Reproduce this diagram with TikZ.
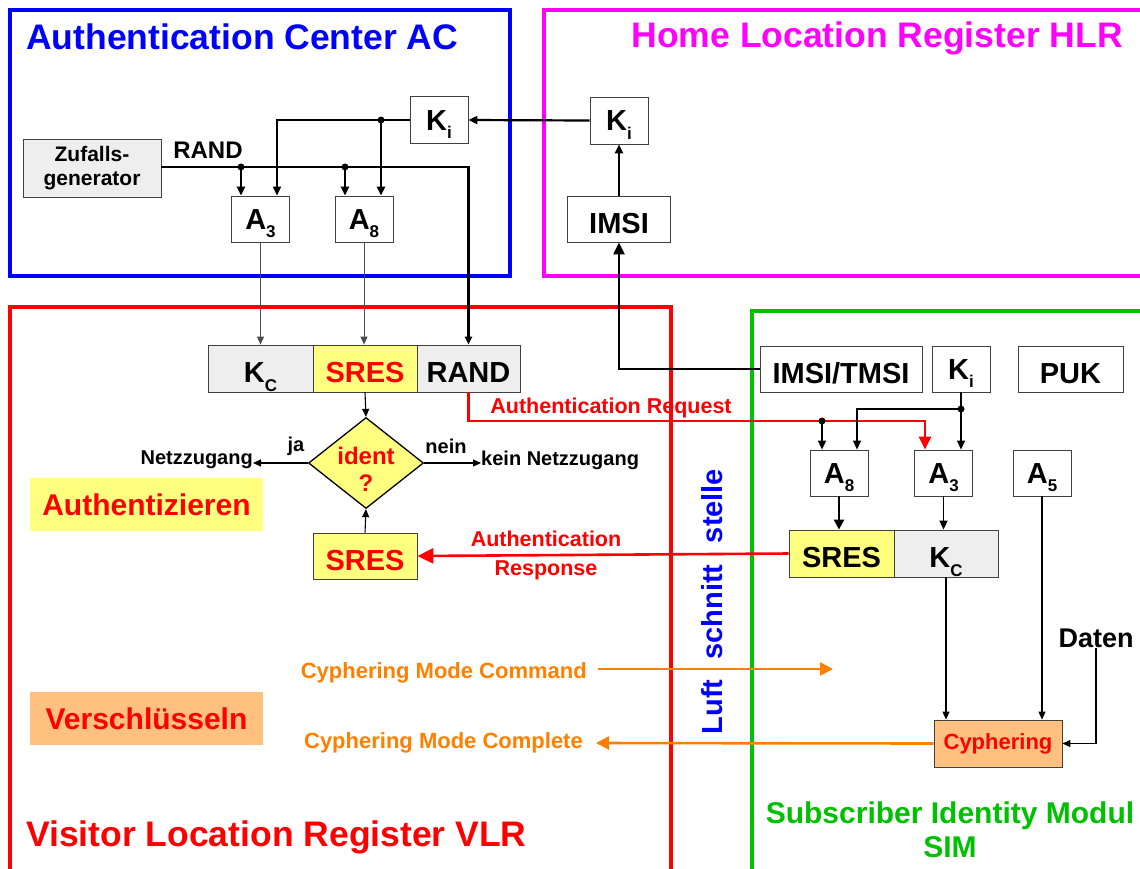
\documentclass[tikz,border=0pt]{standalone}
\usepackage{fontspec}
\setmainfont{Liberation Sans}
\usetikzlibrary{arrows.meta,shapes.geometric}
\definecolor{acblue}{RGB}{0,0,255}
\definecolor{hlrpink}{RGB}{255,0,255}
\definecolor{vlrred}{RGB}{255,0,0}
\definecolor{simgreen}{RGB}{0,192,0}
\definecolor{cyorange}{RGB}{255,128,0}
\definecolor{cyfill}{RGB}{255,192,128}
\definecolor{resyellow}{RGB}{255,255,128}
\definecolor{keygray}{RGB}{238,238,238}
\newcommand{\subidx}[1]{\raisebox{-0.3em}{\fontsize{17}{17}\selectfont #1}}
\tikzset{>={Triangle[length=9pt,width=8pt]}}
\tikzset{
  frame/.style={line width=3.5pt},
  title/.style={font=\fontsize{35.5}{38}\selectfont\bfseries, inner sep=0pt},
  plainbox/.style={draw=black!75, line width=0.8pt, fill=white, inner sep=0pt,
    minimum width=58pt, minimum height=46pt, font=\fontsize{29}{31}\selectfont\bfseries},
  box/.style={plainbox, text height=20pt, text depth=0pt},
  word/.style={text height=28pt},
  small/.style={font=\fontsize{20}{22}\selectfont\bfseries, inner sep=0pt},
  msg/.style={font=\fontsize{21.5}{29}\selectfont\bfseries, inner sep=0pt, text=vlrred, align=center},
  cyp/.style={font=\fontsize{22}{24}\selectfont\bfseries, inner sep=0pt, text=cyorange},
  sig/.style={line width=2.2pt, ->},
  thinsig/.style={line width=1.1pt, -{Triangle[length=8pt,width=7pt]}},
  redsig/.style={vlrred, line width=2.6pt},
  orangesig/.style={cyorange, line width=2.6pt, -{Triangle[length=13pt,width=13pt]}},
}

\begin{document}
\begin{tikzpicture}[x=1pt,y=-1pt]
    \useasboundingbox (0,0) rectangle (1140,868);
    \clip (0,0) rectangle (1140,868);
    % the four areas
    \draw[frame,acblue]   (10,10) rectangle (510,276);
    \draw[frame,hlrpink]  (544,10) rectangle (1160,276);
    \draw[frame,vlrred]   (10,307) rectangle (671,890);
    \draw[frame,simgreen] (752,311) rectangle (1160,890);
    %
    \node[title, text=acblue, anchor=west]  (actitle)  at (26,37)   {Authentication Center AC};
    \node[title, text=hlrpink, anchor=east] (hlrtitle) at (1123,38) {Home Location Register HLR};
    \node[title, text=vlrred, anchor=west]  (vlrtitle) at (26,837)  {Visitor Location Register VLR};
    \node[font=\fontsize{30}{34}\selectfont\bfseries, text=simgreen, align=center, inner sep=0pt]
        (simtitle) at (950,830) {Subscriber Identity Modul\\SIM};
    %
    % Authentication Center
    \node[plainbox, minimum width=138pt, minimum height=58pt, fill=keygray, align=center,
          font=\fontsize{21}{24}\selectfont\bfseries] (zufall) at (92,168) {Zufalls-\\generator};
    \node[box, minimum height=47pt] (kiac) at (439,120) {K\subidx{i}};
    \node[box] (a3ac) at (260.5,219) {A\subidx{3}};
    \node[box] (a8ac) at (364,219)   {A\subidx{8}};
    \node[font=\fontsize{24}{26}\selectfont\bfseries, inner sep=0pt] (randlbl) at (208,150) {RAND};
    %
    % Home Location Register
    \node[box, minimum height=47pt] (kihlr) at (619,120.5) {K\subidx{i}};
    \node[box, word, minimum width=103pt] (imsihlr) at (619,219) {IMSI};
    %
    % Visitor Location Register
    \node[box, word, minimum width=105pt, minimum height=47pt, fill=keygray] (kcvlr) at (260.5,368.5) {K\subidx{C}};
    \node[box, word, minimum width=104pt, minimum height=47pt, fill=resyellow, text=vlrred] (sresvlr) at (365,368.5) {SRES};
    \node[box, word, minimum width=103pt, minimum height=47pt, fill=keygray] (randvlr) at (468.5,368.5) {RAND};
    \node[diamond, draw=black, line width=1.3pt, fill=resyellow, inner sep=0pt, aspect=1.26,
          minimum width=115pt, minimum height=91pt,
          label={[font=\fontsize{24}{27}\selectfont\bfseries, text=vlrred, align=center, yshift=-6pt]center:{ident\\?}}]
        (ident) at (366,463) {};
    \node[box, word, minimum width=104pt, fill=resyellow, text=vlrred] (sresin) at (365,556) {SRES};
    \node[small, anchor=east] (netz) at (253,460) {Netzzugang};
    \node[small, anchor=west] (keinnetz) at (481,460) {kein Netzzugang};
    \node[small] (ja) at (296,446) {ja};
    \node[small] (nein) at (446,446) {nein};
    \node[fill=resyellow, minimum width=233pt, minimum height=53pt, inner sep=0pt, text=vlrred,
          font=\fontsize{30}{32}\selectfont\bfseries] (authlbl) at (146.5,504.5) {Authentizieren};
    \node[fill=cyfill, minimum width=233pt, minimum height=53pt, inner sep=0pt, text=vlrred,
          font=\fontsize{30}{32}\selectfont\bfseries] (verlbl) at (146.5,718.5) {Verschlüsseln};
    %
    % Luftschnittstelle
    \node[rotate=90, text=acblue, font=\fontsize{29}{31}\selectfont\bfseries, inner sep=0pt] (luft) at (712,707) {Luft};
    \node[rotate=90, text=acblue, font=\fontsize{29}{31}\selectfont\bfseries, inner sep=0pt] (schnitt) at (712,612) {schnitt};
    \node[rotate=90, text=acblue, font=\fontsize{29}{31}\selectfont\bfseries, inner sep=0pt] (stelle) at (712,506) {stelle};
    %
    % SIM
    \node[box, word, minimum width=162pt] (imsitmsi) at (841,369) {IMSI/TMSI};
    \node[box] (kisim) at (961,369) {K\subidx{i}};
    \node[box, word, minimum width=105pt] (puk) at (1070.5,369) {PUK};
    \node[box] (a8sim) at (839,473)  {A\subidx{8}};
    \node[box] (a3sim) at (943.5,473) {A\subidx{3}};
    \node[box] (a5sim) at (1042,473) {A\subidx{5}};
    \node[box, word, minimum width=105pt, minimum height=47pt, fill=resyellow] (sressim) at (841.5,553.5) {SRES};
    \node[box, word, minimum width=104pt, minimum height=47pt, fill=keygray] (kcsim) at (946,553.5) {K\subidx{C}};
    \node[plainbox, minimum width=128pt, minimum height=47pt, fill=cyfill, text=vlrred,
          font=\fontsize{22}{24}\selectfont\bfseries] (cyph) at (998,743.5) {Cyphering};
    \node[font=\fontsize{27}{29}\selectfont\bfseries, inner sep=0pt] (daten) at (1096,638) {Daten};
    %
    % messages over the air
    \node[msg] (req) at (611,408) {Authentication Request};
    \node[msg] (resp) at (546,555) {Authentication\\Response};
    \node[cyp, anchor=east] (cmd) at (587,673) {Cyphering Mode Command};
    \node[cyp, anchor=east] (cmpl) at (583,743) {Cyphering Mode Complete};
    %
    \coordinate (r3) at (241,167);
    \coordinate (r8) at (345,167);
    \coordinate (k3) at (277,120);
    \coordinate (k8) at (381,120);
    \coordinate (rq) at (925,421);
    \coordinate (rq8) at (822,421);
    \coordinate (ks) at (961,409);
    \coordinate (ks8) at (857,409);
    \coordinate (cmdstart) at (598,669);
    \coordinate (cmdend) at (833,669);
    \coordinate (cmplend) at (596,743);
    %
    % AC wiring
    \draw[line width=2.2pt, -{Triangle[length=8pt,width=7pt]}] (zufall.east |- r3) -- (r3 -| randvlr.north) -- (randvlr.north);
    \draw[sig] (r3) -- (r3 |- a3ac.north);
    \draw[sig] (r8) -- (r8 |- a8ac.north);
    \draw[line width=1.4pt, ->] (kiac.west) -- (k3) -- (k3 |- a3ac.north);
    \draw[sig] (k8) -- (k8 |- a8ac.north);
    \fill (r3) circle (3.5pt) (r8) circle (3.5pt) (k8) circle (3.5pt);
    \draw[sig] (kihlr.west) -- (kiac.east);
    \draw[sig] (imsihlr.north) -- (kihlr.south);
    \draw[black!70, line width=1pt, -{Triangle[length=8pt,width=7pt]}] (a3ac.south) -- (a3ac.south |- kcvlr.north);
    \draw[black!70, line width=1pt, -{Triangle[length=8pt,width=7pt]}] (a8ac.south) -- (a8ac.south |- sresvlr.north);
    \draw[line width=2.2pt, -{Triangle[length=12pt,width=11pt]}] (imsitmsi.west) -- (imsitmsi.west -| imsihlr.south) -- (imsihlr.south);
    %
    % comparison in the VLR
    \draw[thinsig] (sresvlr.south) -- (ident.north);
    \draw[thinsig] (sresin.north) -- (ident.south);
    \draw[thinsig] (ident.west) -- (ident.west -| netz.east);
    \draw[thinsig] (ident.east) -- (ident.east -| keinnetz.west);
    %
    % request and response
    \draw[redsig, -{Triangle[length=13pt,width=12pt]}] (randvlr.south) |- (rq) -- (rq |- a3sim.north);
    \draw[line width=1.8pt, ->] (rq8) -- (rq8 |- a8sim.north);
    \fill (rq8) circle (3.5pt);
    \draw[redsig, -{Triangle[length=16pt,width=15pt]}] (sressim.west) -- (sresin.east);
    %
    % SIM wiring
    \draw[line width=1.2pt] (kisim.south) -- (ks);
    \draw[line width=1.2pt, ->] (ks) -- (ks8) -- (ks8 |- a8sim.north);
    \draw[line width=1.2pt, ->] (ks) -- (ks |- a3sim.north);
    \fill (ks) circle (3.5pt);
    \draw[line width=2.6pt, -{Triangle[length=10pt,width=10pt]}] (a8sim.south) -- (a8sim.south |- sressim.north);
    \draw[line width=1.6pt, ->] (a3sim.south) -- (a3sim.south |- kcsim.north);
    \draw[thinsig] (kcsim.south) -- (kcsim.south |- cyph.north);
    \draw[thinsig] (a5sim.south) -- (a5sim.south |- cyph.north);
    \draw[thinsig] (daten.south) |- (cyph.east);
    %
    % ciphering
    \draw[orangesig] (cmdstart) -- (cmdend);
    \draw[orangesig] (cyph.west) -- (cmplend);
\end{tikzpicture}
\end{document}
